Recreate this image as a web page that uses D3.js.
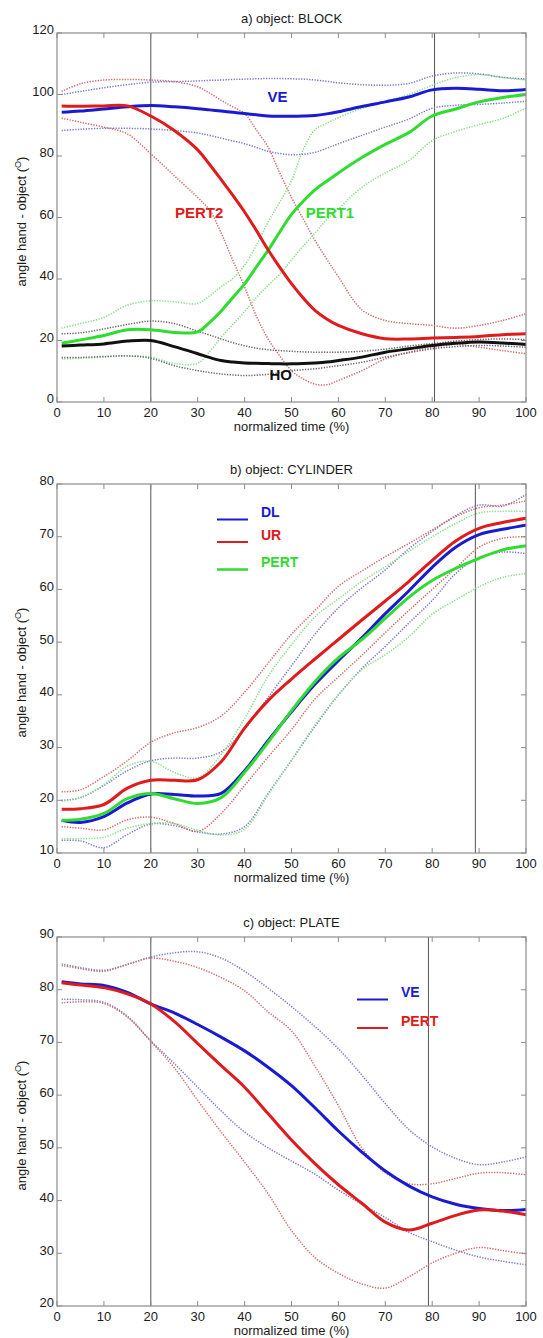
<!DOCTYPE html>
<html><head><meta charset="utf-8">
<script src="https://cdn.jsdelivr.net/npm/d3@7"></script>
<style>body{margin:0;background:#fff}svg{display:block}</style>
</head><body><svg id="c" width="543" height="1338"></svg>
<script>
// ---------- Panel a: BLOCK ----------
const timeA = [1,5,10,15,20,25,30,32.5,35,37.5,40,42.5,45,47.5,50,52.5,55,57.5,60,65,70,75,80,85,90,95,100];
const blockVE      = [94.2,94.6,95.3,96,96.4,96,95.4,95,94.6,94.2,93.8,93.4,93,92.9,92.9,93,93.2,93.7,94.4,96.1,97.6,99.2,101.5,102,101.7,101.2,101.6];
const blockVEup    = [100,101,102.2,103.2,104,104.2,104.4,104.6,104.7,104.9,105,105.1,105.2,105.2,105.1,105,104.7,104.3,103.8,103.2,103,103.6,106,107,106.7,105.6,105];
const blockVElo    = [88.3,88.7,89,89,88.8,88.3,87.5,86.7,85.8,84.9,84,82.8,81.5,80.8,80.4,80.6,81.2,82.5,84,86.7,89.4,92,95.5,96.5,96.8,97.2,97.8];
const blockPERT2   = [96.3,96.2,96.3,96.3,93,88.3,82,77.3,72.3,67.2,61.8,55.8,49.5,43.8,38.5,33.8,29.8,27,24.9,22.2,20.6,20.5,20.8,21,21.3,21.9,22.2];
const blockPERT2up = [101,103.5,104.7,104.9,104.7,104.2,102.5,100.5,98.1,96,93.8,88.5,82.9,74.5,66.5,59.5,52.6,46.5,40.7,30,26.5,25.5,24.9,24,24.9,26.5,28.7];
const blockPERT2lo = [92.3,91,89.4,87.2,80.7,73.6,66.5,62.5,55,46,37.4,28,20.5,15,10.2,7.5,5.8,5.6,7,10.2,14,16.2,17.8,18.7,17.8,16.7,15.7];
const blockPERT1   = [19.1,20.2,21.6,23.5,23.5,22.6,22.8,25.8,29.6,34,38.4,43.9,49.3,55.3,61,65.3,69,71.8,74.5,79.5,83.8,87.6,93,95.3,97.6,99,100];
const blockPERT1up = [24,25.5,27.5,31.5,32.9,32.6,32,34.5,37.5,40.2,44.5,51,58.5,65,72,82,88.6,90.6,92.5,95.5,97.6,100,103,105.5,106.5,105.5,104.7];
const blockPERT1lo = [14,14.2,14.6,15,14.6,12.5,12.6,16.3,21,25.2,29.4,34,37.9,41.6,46.2,50.7,54.9,59.3,62.8,69.8,74.5,78.5,85,88,90.2,92.2,95.5];
const blockHO      = [18.2,18.5,18.9,19.8,20,18,15.7,14.5,13.5,13,12.7,12.6,12.5,12.4,12.4,12.5,12.7,13,13.5,14.6,16.2,17.3,18.4,19.1,19.5,19.2,18.7];
const blockHOup    = [22.2,22.5,23.8,25.2,26.3,25.5,23,21.8,20.5,19.3,18.3,17.5,17,16.7,16.5,16.3,16.2,16.2,16.2,16.5,17.2,18.2,19,19.8,20.3,20.5,20.3];
const blockHOlo    = [14.5,14.5,14.8,15,14.2,11.8,10.2,9.6,9.1,8.8,8.6,8.7,9,9.5,10.2,10.5,10.8,11.3,11.8,12.9,14.6,16,17.3,18,18.4,18.2,17.8];

// ---------- Panel b: CYLINDER ----------
const timeB = [1,5,10,15,20,25,30,35,40,45,50,55,60,65,70,75,80,85,90,95,100];
const cylDL     = [16.2,15.8,16.9,19.5,21.2,21.1,20.8,21.3,25.6,31.3,36.8,42,46.5,50.8,55.4,59.7,64.2,68,70.4,71.4,72.2];
const cylDLup   = [20,20.5,22.8,25.6,27.5,28,28,29.2,33.5,39.5,45.5,51.5,56.5,60.3,63.7,67.7,71,74,76,75.8,78];
const cylDLlo   = [12.4,12.3,11,13.5,15.5,15.2,14,13.6,15,21.3,27.6,34,40,45,49.2,53.6,57.9,63,66.1,67.1,66.8];
const cylUR     = [18.3,18.4,19.2,22.3,23.8,23.8,23.9,27.3,33.7,38.9,43,46.8,50.5,54.2,57.8,61.5,65.5,69.2,71.6,72.7,73.5];
const cylURup   = [21.6,22,24.5,27.5,31,32.8,33.8,36,40.5,46,51.5,56,60.6,63.5,66.2,68.7,71.3,73.8,75.5,76,76.8];
const cylURlo   = [15,14.7,14.4,16.3,16.8,15.6,14.1,17.5,22.8,28.2,33.4,39.2,43.4,47.5,51.8,56,60,64,68,69.7,70];
const cylPERT   = [16.2,16.4,17.5,20.3,21.3,20.3,19.4,20.5,25.3,31,37,42.5,47,50.5,54.5,58.5,61.7,64,65.9,67.5,68.3];
const cylPERTup = [19.8,20.5,23,26.5,27.4,25.3,24.3,28.7,35.5,43.5,49.5,54.8,58.2,61.5,64.3,67.2,70,72.5,74.5,74.8,74.8];
const cylPERTlo = [12.7,12.7,13,14.7,15.6,15.6,14.3,13.4,14.5,21,27.6,34.3,40,44.8,47.6,51,55.3,58,60.5,62.3,63];

// ---------- Panel c: PLATE ----------
const timeC = [1,5,10,15,20,25,30,35,40,45,50,55,60,65,70,75,80,85,90,95,100];
const plateVE     = [81.5,81.1,80.8,79.5,77.3,75.6,73.4,71,68.4,65.3,61.8,57.6,53.2,49.2,45.6,42.8,40.7,39.3,38.5,38.1,38.3];
const plateVEup   = [84.9,84.2,83.7,84.8,86.2,87,87.2,86,83.5,80.3,76.8,73,68.8,63.8,58.4,53.5,50.2,48,46.8,47.3,48.3];
const plateVElo   = [78.2,78.1,77.6,75,70.3,66,61.5,57,53,50,47.5,45,42,39.3,36.8,34,32.2,30.6,29.3,28.5,27.8];
const platePERT   = [81.3,80.9,80.4,79.2,77.3,74,69.8,65.6,61.5,56.5,51.5,47,43,39.5,35.9,34.4,35.7,37.2,38.2,38,37.3];
const platePERTup = [84.6,84,83.5,84.8,86,85.4,84.2,82.3,79.8,75.8,72.2,65.5,58,50,45.3,43.2,43.2,44.2,45.2,45.3,44.9];
const platePERTlo = [77.5,77.7,77.4,74.8,70.2,65.2,59,53,47.3,41.3,34.3,29.2,26.2,24.2,23.4,25.5,28.2,30,31.1,30.5,29.9];

// axis ticks
const xTicks = [0,10,20,30,40,50,60,70,80,90,100];
const yTicksA = [0,20,40,60,80,100,120];
const yTicksB = [10,20,30,40,50,60,70,80];
const yTicksC = [20,30,40,50,60,70,80,90];
const vLinesA = [20, 80.5];
const vLinesB = [20, 89.2];
const vLinesC = [20, 79.2];

const COL = {blue:"#1a1ad2", red:"#e01b1b", green:"#2fdc2f", black:"#111111",
             blueD:"#7a78c8", redD:"#cf6a6a", greenD:"#86de86", blackD:"#6f6470"};
const FONT = "'Liberation Sans', Arial, sans-serif";

const svg = d3.select("#c");
const L = 57, R = 526, H = 369;

function panel(cfg){
  const g = svg.append("g");
  const x = d3.scaleLinear().domain([0,100]).range([L,R]);
  const y = d3.scaleLinear().domain(cfg.yDomain).range([cfg.top+H, cfg.top]);
  g.append("text").attr("x",(L+R)/2).attr("y",cfg.top-13).attr("text-anchor","middle")
   .attr("dominant-baseline","middle").attr("font-family",FONT).attr("font-size",13).attr("fill","#1a1a1a")
   .text(cfg.title);
  cfg.vlines.forEach(v=>{
    g.append("line").attr("x1",x(v)).attr("x2",x(v)).attr("y1",cfg.top).attr("y2",cfg.top+H)
     .attr("stroke","#555").attr("stroke-width",1);
  });
  const line = d3.line().x((d,i)=>x(cfg.time[i])).y(d=>y(d)).curve(d3.curveCatmullRom.alpha(0.5));
  cfg.dotted.forEach(s=>{
    g.append("path").attr("d",line(s.v)).attr("fill","none").attr("stroke",s.c)
     .attr("stroke-width",1.5).attr("stroke-dasharray","1.3 1.4");
  });
  cfg.solid.forEach(s=>{
    g.append("path").attr("d",line(s.v)).attr("fill","none").attr("stroke",s.c)
     .attr("stroke-width",3).attr("stroke-linejoin","round");
  });
  g.append("rect").attr("x",L).attr("y",cfg.top).attr("width",R-L).attr("height",H)
   .attr("fill","none").attr("stroke","#8c8c8c").attr("stroke-width",1.2);
  const ax = g.append("g").attr("font-family",FONT).attr("font-size",13).attr("fill","#1a1a1a");
  xTicks.forEach(t=>{
    ax.append("line").attr("x1",x(t)).attr("x2",x(t)).attr("y1",cfg.top+H).attr("y2",cfg.top+H-5).attr("stroke","#8c8c8c");
    ax.append("line").attr("x1",x(t)).attr("x2",x(t)).attr("y1",cfg.top).attr("y2",cfg.top+5).attr("stroke","#8c8c8c");
    ax.append("text").attr("x",x(t)).attr("y",cfg.top+H+12).attr("text-anchor","middle")
      .attr("dominant-baseline","middle").text(t);
  });
  cfg.yTicks.forEach(t=>{
    ax.append("line").attr("x1",L).attr("x2",L+5).attr("y1",y(t)).attr("y2",y(t)).attr("stroke","#8c8c8c");
    ax.append("line").attr("x1",R).attr("x2",R-5).attr("y1",y(t)).attr("y2",y(t)).attr("stroke","#8c8c8c");
    ax.append("text").attr("x",L-3).attr("y",y(t)-2).attr("text-anchor","end")
      .attr("dominant-baseline","middle").text(t);
  });
  g.append("text").attr("x",(L+R)/2).attr("y",cfg.top+H+26).attr("text-anchor","middle")
   .attr("dominant-baseline","middle").attr("font-family",FONT).attr("font-size",13).attr("fill","#1a1a1a")
   .text("normalized time (%)");
  const yl = g.append("text").attr("transform",`translate(26,${cfg.top+H/2+4}) rotate(-90)`)
   .attr("text-anchor","middle").attr("font-family",FONT).attr("font-size",13).attr("fill","#1a1a1a");
  yl.append("tspan").text("angle hand - object (");
  yl.append("tspan").attr("font-size",9).attr("dy",-5).text("O");
  yl.append("tspan").attr("dy",5).text(")");
  (cfg.labels||[]).forEach(l=>{
    g.append("text").attr("x",x(l.x)).attr("y",y(l.y)).attr("text-anchor","middle")
     .attr("dominant-baseline","middle").attr("font-family",FONT).attr("font-weight","bold")
     .attr("font-size",15).attr("fill",l.c).text(l.t);
  });
  (cfg.legend||[]).forEach(l=>{
    g.append("line").attr("x1",l.x1).attr("x2",l.x2).attr("y1",l.y).attr("y2",l.y)
     .attr("stroke",l.c).attr("stroke-width",l.w);
    g.append("text").attr("x",l.x2+13).attr("y",l.y-6).attr("dominant-baseline","middle")
     .attr("font-family",FONT).attr("font-weight","bold").attr("font-size",14).attr("fill",l.c).text(l.t);
  });
}

panel({top:33, title:"a) object: BLOCK", yDomain:[0,120], yTicks:yTicksA, vlines:vLinesA, time:timeA,
  dotted:[
    {v:blockVEup,c:COL.blueD},{v:blockVElo,c:COL.blueD},
    {v:blockPERT2up,c:COL.redD},{v:blockPERT2lo,c:COL.redD},
    {v:blockPERT1up,c:COL.greenD},{v:blockPERT1lo,c:COL.greenD},
    {v:blockHOup,c:COL.blackD},{v:blockHOlo,c:COL.blackD}],
  solid:[{v:blockPERT1,c:COL.green},{v:blockVE,c:COL.blue},{v:blockPERT2,c:COL.red},{v:blockHO,c:COL.black}],
  labels:[
    {t:"VE",x:47,y:98.7,c:COL.blue},
    {t:"PERT2",x:30.3,y:61.2,c:COL.red},
    {t:"PERT1",x:58.2,y:61.2,c:COL.green},
    {t:"HO",x:47.7,y:8.3,c:COL.black}]
});

panel({top:484, title:"b) object: CYLINDER", yDomain:[10,80], yTicks:yTicksB, vlines:vLinesB, time:timeB,
  dotted:[
    {v:cylDLup,c:COL.blueD},{v:cylDLlo,c:COL.blueD},
    {v:cylURup,c:COL.redD},{v:cylURlo,c:COL.redD},
    {v:cylPERTup,c:COL.greenD},{v:cylPERTlo,c:COL.greenD}],
  solid:[{v:cylDL,c:COL.blue},{v:cylPERT,c:COL.green},{v:cylUR,c:COL.red}],
  legend:[
    {t:"DL",c:COL.blue,x1:217,x2:248,y:519.5,w:2},
    {t:"UR",c:COL.red,x1:217,x2:248,y:542,w:2},
    {t:"PERT",c:COL.green,x1:217,x2:248,y:569.5,w:2.5}]
});

panel({top:937, title:"c) object: PLATE", yDomain:[20,90], yTicks:yTicksC, vlines:vLinesC, time:timeC,
  dotted:[
    {v:plateVEup,c:COL.blueD},{v:plateVElo,c:COL.blueD},
    {v:platePERTup,c:COL.redD},{v:platePERTlo,c:COL.redD}],
  solid:[{v:plateVE,c:COL.blue},{v:platePERT,c:COL.red}],
  legend:[
    {t:"VE",c:COL.blue,x1:357,x2:388,y:999.5,w:2},
    {t:"PERT",c:COL.red,x1:357,x2:388,y:1028,w:2}]
});
</script></body></html>
